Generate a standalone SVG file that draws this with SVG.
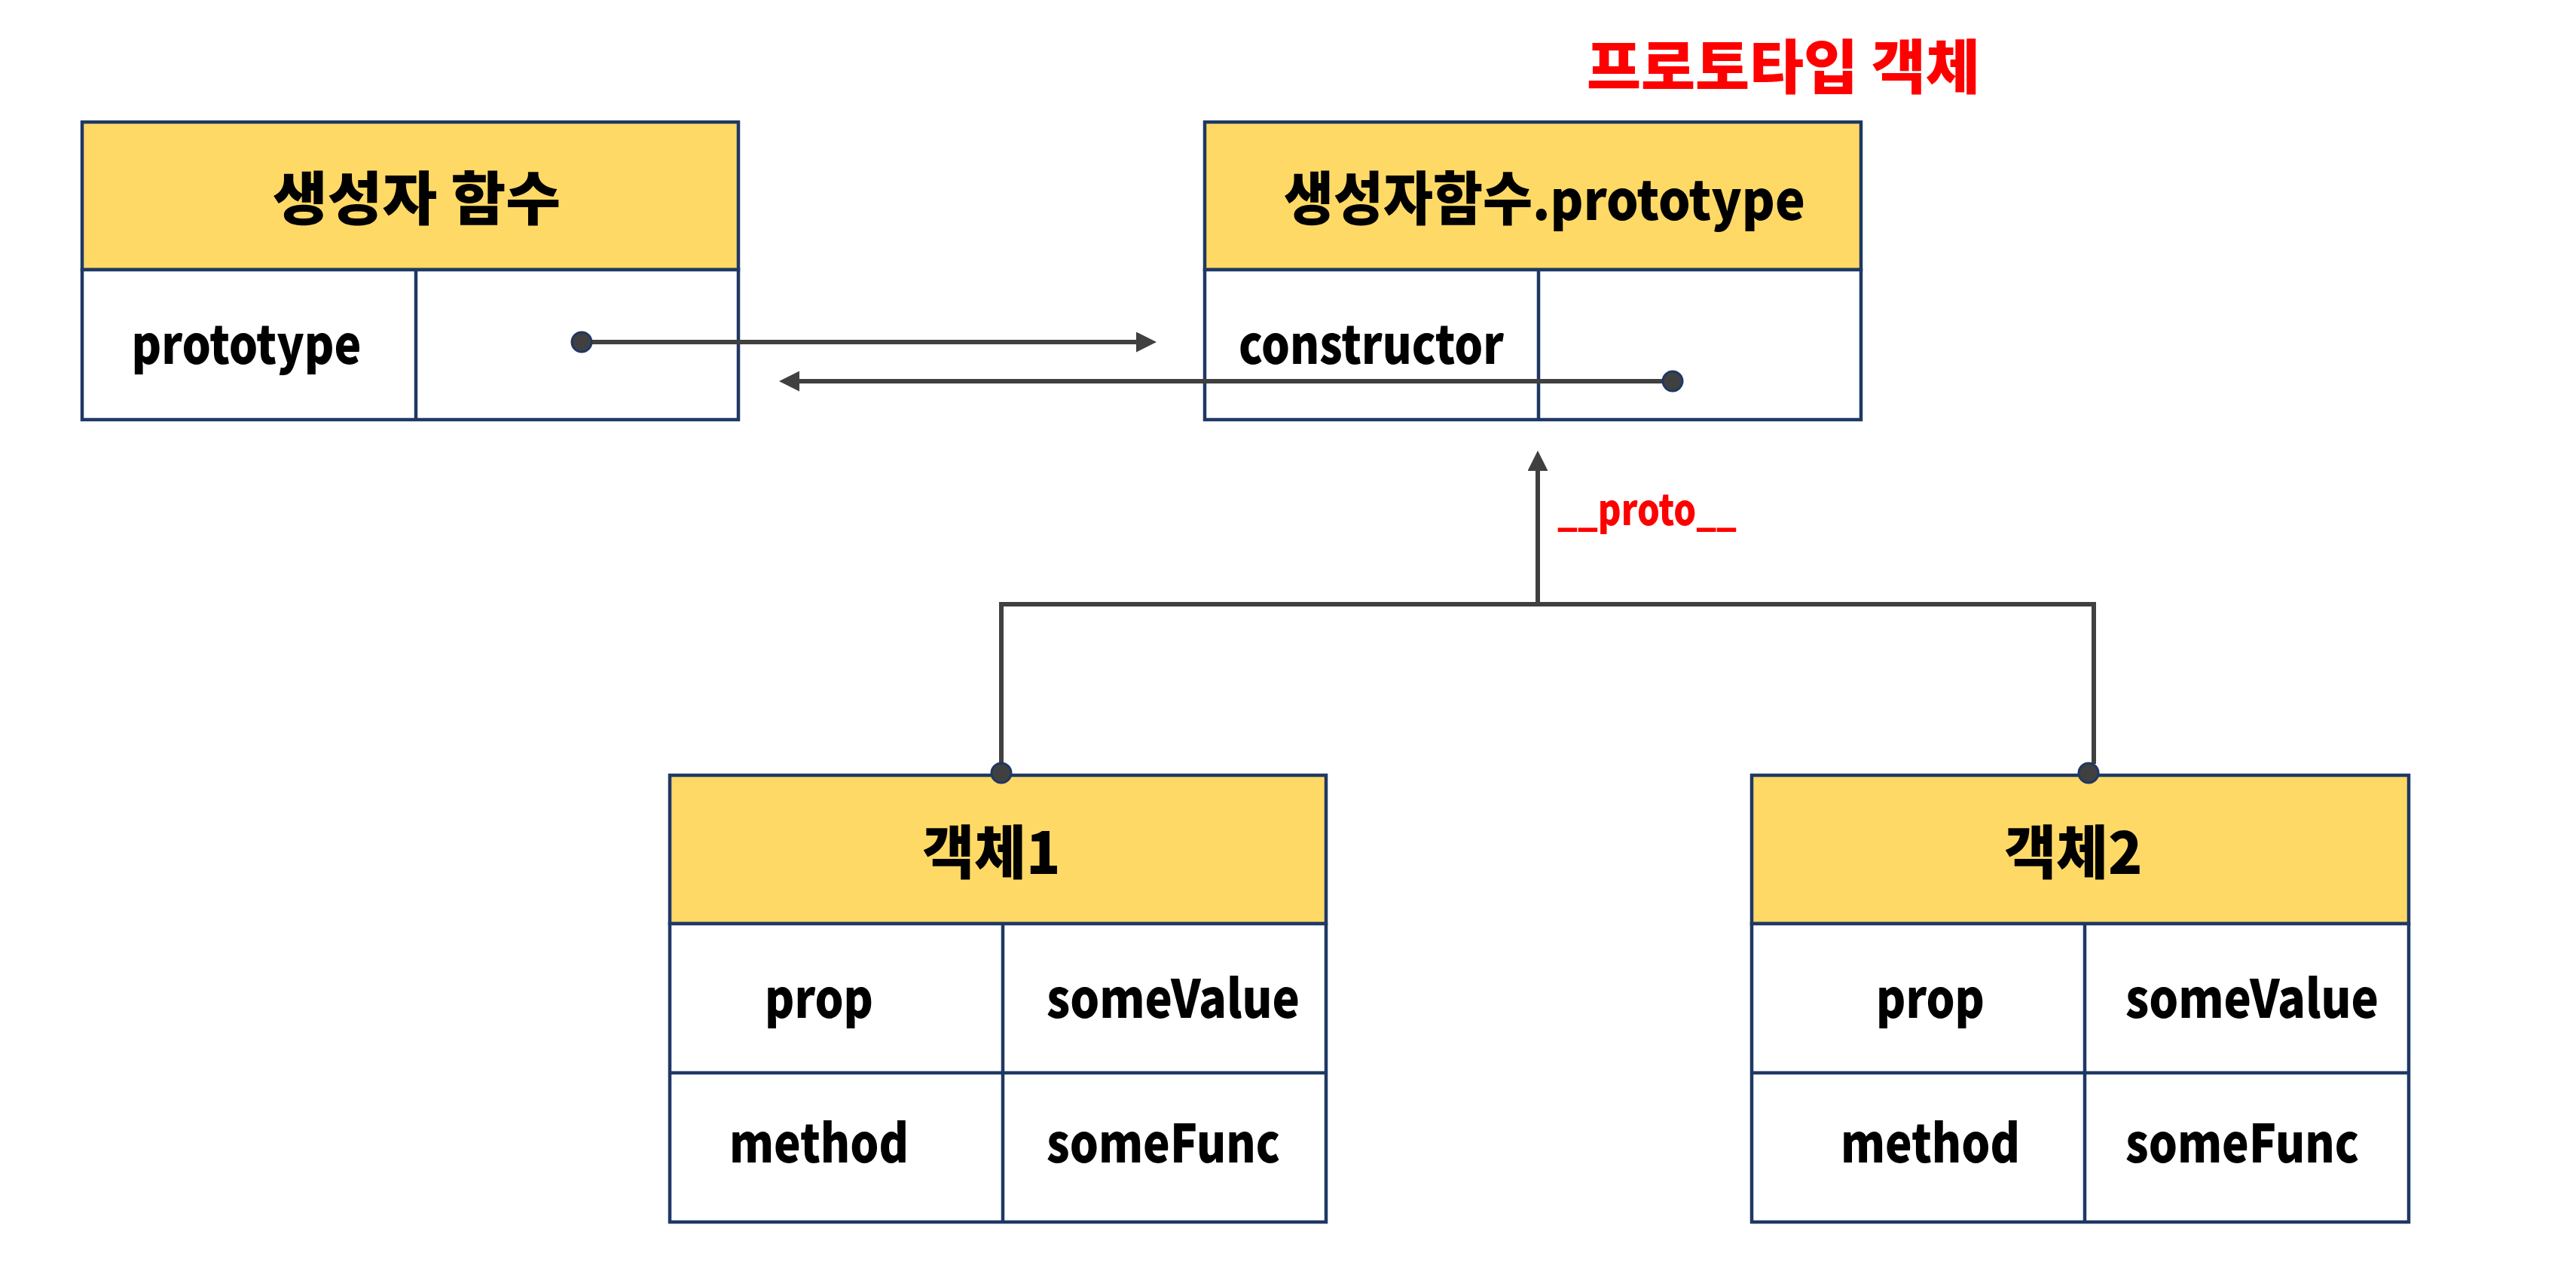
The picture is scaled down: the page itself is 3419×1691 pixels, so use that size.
<svg xmlns="http://www.w3.org/2000/svg" width="3419" height="1691" viewBox="0 0 3419 1691">
  <style>
    .box { fill: #FFFFFF; stroke: #1F3864; stroke-width: 4.5; }
    .hdr { fill: #FFD966; stroke: #1F3864; stroke-width: 4.5; }
    .div { stroke: #1F3864; stroke-width: 4.5; fill: none; }
    text { font-family: "Noto Sans CJK KR", "Noto Sans", sans-serif; font-weight: 900; fill: #000000; }
    .h { font-size: 77px; text-anchor: middle; }
    .b { font-size: 70px; }
    .c { text-anchor: middle; }
    .red { fill: #FF0000; }
    .conn { stroke: #404040; stroke-width: 6; fill: none; }
    .dot { fill: #404040; stroke: #1F3864; stroke-width: 3; }
  </style>
  <defs>
    <marker id="arrow" markerUnits="userSpaceOnUse" markerWidth="28" markerHeight="28" refX="17" refY="13.5" orient="auto">
      <path d="M0,0 L27,13.5 L0,27 Z" fill="#404040"/>
    </marker>
  </defs>
  <rect width="3419" height="1691" fill="#FFFFFF"/>

  <text id="title" class="red" x="2367" y="118" font-size="78" text-anchor="middle" textLength="522" lengthAdjust="spacingAndGlyphs">프로토타입 객체</text>

  <g id="constructor-fn">
    <rect class="hdr" x="109" y="162" width="871" height="196"/>
    <rect class="box" x="109" y="358" width="871" height="199"/>
    <line class="div" x1="552" y1="358" x2="552" y2="557"/>
    <text class="h" x="553" y="292" textLength="382" lengthAdjust="spacingAndGlyphs">생성자 함수</text>
    <text class="b c" x="327" y="483" textLength="305" lengthAdjust="spacingAndGlyphs">prototype</text>
  </g>

  <g id="prototype-obj">
    <rect class="hdr" x="1599" y="162" width="871" height="196"/>
    <rect class="box" x="1599" y="358" width="871" height="199"/>
    <line class="div" x1="2042" y1="358" x2="2042" y2="557"/>
    <text class="h" x="2050" y="292" textLength="692" lengthAdjust="spacingAndGlyphs">생성자함수<tspan font-size="72">.prototype</tspan></text>
    <text class="b c" x="1820" y="483" textLength="352" lengthAdjust="spacingAndGlyphs">constructor</text>
  </g>

  <g id="obj1">
    <rect class="hdr" x="889" y="1029" width="871" height="197"/>
    <rect class="box" x="889" y="1226" width="871" height="396"/>
    <line class="div" x1="889" y1="1424" x2="1760" y2="1424"/>
    <line class="div" x1="1331" y1="1226" x2="1331" y2="1622"/>
    <text class="h" x="1316" y="1160" textLength="183" lengthAdjust="spacingAndGlyphs">객체1</text>
    <text class="b c" x="1087" y="1351" textLength="144" lengthAdjust="spacingAndGlyphs">prop</text>
    <text class="b" x="1389" y="1351" textLength="336" lengthAdjust="spacingAndGlyphs">someValue</text>
    <text class="b c" x="1087" y="1543" textLength="238" lengthAdjust="spacingAndGlyphs">method</text>
    <text class="b" x="1389" y="1543" textLength="310" lengthAdjust="spacingAndGlyphs">someFunc</text>
  </g>

  <g id="obj2">
    <rect class="hdr" x="2325" y="1029" width="872" height="197"/>
    <rect class="box" x="2325" y="1226" width="872" height="396"/>
    <line class="div" x1="2325" y1="1424" x2="3197" y2="1424"/>
    <line class="div" x1="2767" y1="1226" x2="2767" y2="1622"/>
    <text class="h" x="2752" y="1160" textLength="183" lengthAdjust="spacingAndGlyphs">객체2</text>
    <text class="b c" x="2562" y="1351" textLength="144" lengthAdjust="spacingAndGlyphs">prop</text>
    <text class="b" x="2821" y="1351" textLength="336" lengthAdjust="spacingAndGlyphs">someValue</text>
    <text class="b c" x="2562" y="1543" textLength="238" lengthAdjust="spacingAndGlyphs">method</text>
    <text class="b" x="2821" y="1543" textLength="310" lengthAdjust="spacingAndGlyphs">someFunc</text>
  </g>

  <g id="connectors">
    <line class="conn" x1="772" y1="454" x2="1525" y2="454" marker-end="url(#arrow)"/>
    <line class="conn" x1="2220" y1="506" x2="1044" y2="506" marker-end="url(#arrow)"/>
    <polyline class="conn" points="1329,1026 1329,802 2779,802 2779,1014"/>
    <line class="conn" x1="2041" y1="802" x2="2041" y2="608" marker-end="url(#arrow)"/>
    <text class="red" x="2067" y="697" font-size="56" textLength="238" lengthAdjust="spacingAndGlyphs">__proto__</text>
    <circle class="dot" cx="772" cy="454" r="13"/>
    <circle class="dot" cx="2220" cy="506" r="13"/>
    <circle class="dot" cx="1329" cy="1026" r="13"/>
    <circle class="dot" cx="2772" cy="1026" r="13"/>
  </g>
</svg>
